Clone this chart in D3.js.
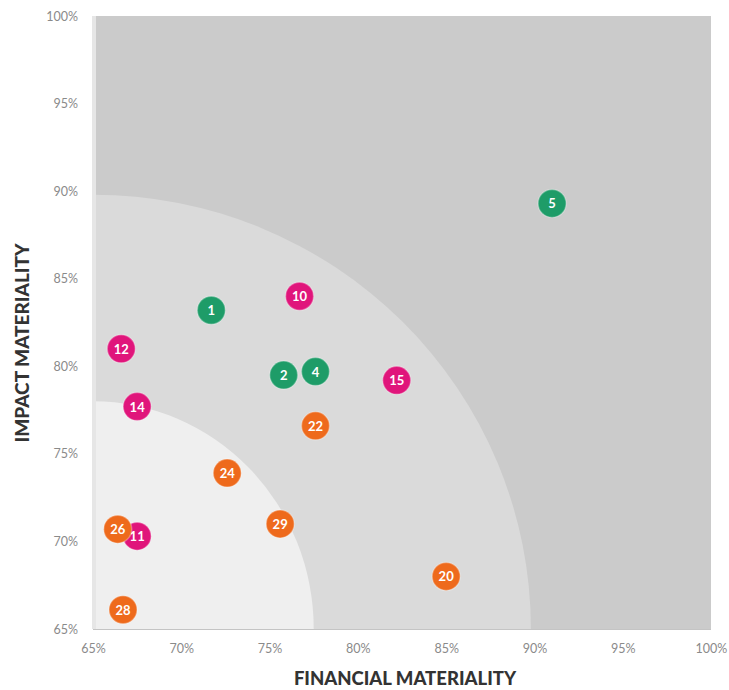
<!DOCTYPE html>
<html>
<head>
<meta charset="utf-8">
<script src="https://cdn.jsdelivr.net/npm/d3@7"></script>
<style>
  body { margin: 0; background: #fff; }
  svg text { font-family: Lato, "Open Sans", sans-serif; }
</style>
</head>
<body>
<svg id="grafico" width="729" height="690"></svg>
<script>
// Datos del gráfico
var ids       = [1, 2, 4, 5, 10, 12, 14, 15, 11, 20, 22, 24, 26, 28, 29];
var financiera = [71.7, 75.8, 77.6, 91.0, 76.7, 66.6, 67.5, 82.2, 67.5, 85.0, 77.6, 72.6, 66.4, 66.7, 75.6];
var impacto    = [83.2, 79.5, 79.7, 89.3, 84.0, 81.0, 77.7, 79.2, 70.3, 68.0, 76.6, 73.9, 70.7, 66.1, 71.0];
var grupos     = ["verde", "verde", "verde", "verde", "rosa", "rosa", "rosa", "rosa", "rosa",
                  "naranja", "naranja", "naranja", "naranja", "naranja", "naranja"];
var ticks = [65, 70, 75, 80, 85, 90, 95, 100];
// Radios de las zonas (en puntos porcentuales desde 65%)
var zonaInterior = [12.5, 13.0];
var zonaMedia = [24.8, 24.8];

var colores = { verde: "#1e9c68", rosa: "#e0157b", naranja: "#ee6a1c" };

var margen = { left: 93, top: 16, right: 18, bottom: 61 };
var ancho = 729, alto = 690;

var svg = d3.select("#grafico");

var x = d3.scaleLinear().domain([65, 100]).range([margen.left, ancho - margen.right]);
var y = d3.scaleLinear().domain([65, 100]).range([alto - margen.bottom, margen.top]);

// Fondo
svg.append("rect")
    .attr("x", x(65)).attr("y", y(100))
    .attr("width", x(100) - x(65)).attr("height", y(65) - y(100))
    .attr("fill", "#cbcbcb");

// Zonas en cuarto de elipse desde la esquina
function cuarto(r) {
    var rx = x(65 + r[0]) - x(65);
    var ry = y(65) - y(65 + r[1]);
    var x0 = x(65), y0 = y(65);
    return "M" + x0 + "," + y0 + "L" + (x0 + rx) + "," + y0 +
        "A" + rx + "," + ry + " 0 0 0 " + x0 + "," + (y0 - ry) + "Z";
}
svg.append("path").attr("d", cuarto(zonaMedia)).attr("fill", "#dadada");
svg.append("path").attr("d", cuarto(zonaInterior)).attr("fill", "#efefef");

// Franja clara a la izquierda
svg.append("rect")
    .attr("x", x(65) - 1).attr("y", y(100))
    .attr("width", 4).attr("height", y(65) - y(100))
    .attr("fill", "#e6e6e6");
svg.append("line")
    .attr("x1", x(65)).attr("x2", x(100))
    .attr("y1", y(65) + 0.5).attr("y2", y(65) + 0.5)
    .attr("stroke", "#c4c4c4");

// Ejes
var ejeX = svg.append("g")
    .attr("transform", "translate(0," + (y(65) + 12) + ")")
    .call(d3.axisBottom(x).tickValues(ticks).tickFormat(d => d + "%").tickSize(0));
var ejeY = svg.append("g")
    .attr("transform", "translate(" + (x(65) - 12) + ",0)")
    .call(d3.axisLeft(y).tickValues(ticks).tickFormat(d => d + "%").tickSize(0));
[ejeX, ejeY].forEach(function (g) {
    g.select(".domain").remove();
    g.selectAll("text")
        .attr("fill", "#8a8a8a")
        .style("font-size", "12.5px")
        .style("font-family", "Lato, sans-serif");
});

// Títulos
svg.append("text")
    .attr("x", 405).attr("y", 685)
    .attr("text-anchor", "middle")
    .attr("fill", "#333")
    .style("font-weight", "900")
    .style("font-size", "18.5px")
    .text("FINANCIAL MATERIALITY");
svg.append("text")
    .attr("transform", "translate(29,343) rotate(-90)")
    .attr("text-anchor", "middle")
    .attr("fill", "#333")
    .style("font-weight", "900")
    .style("font-size", "19px")
    .text("IMPACT MATERIALITY");

// Burbujas
var puntos = ids.map((d, i) => ({ id: d, fx: financiera[i], iy: impacto[i], g: grupos[i] }));
var burbuja = svg.append("g").selectAll("g")
    .data(puntos)
    .enter()
    .append("g")
    .attr("transform", d => "translate(" + x(d.fx) + "," + y(d.iy) + ")");
burbuja.append("circle")
    .attr("r", 14)
    .attr("fill", d => colores[d.g])
    .attr("stroke", "#ffffff")
    .attr("stroke-opacity", 0.3)
    .attr("stroke-width", 1.5);
burbuja.append("text")
    .attr("text-anchor", "middle")
    .attr("dominant-baseline", "central")
    .attr("fill", "#fff")
    .style("font-size", "13px")
    .style("font-weight", "bold")
    .text(d => d.id);
</script>
</body>
</html>
